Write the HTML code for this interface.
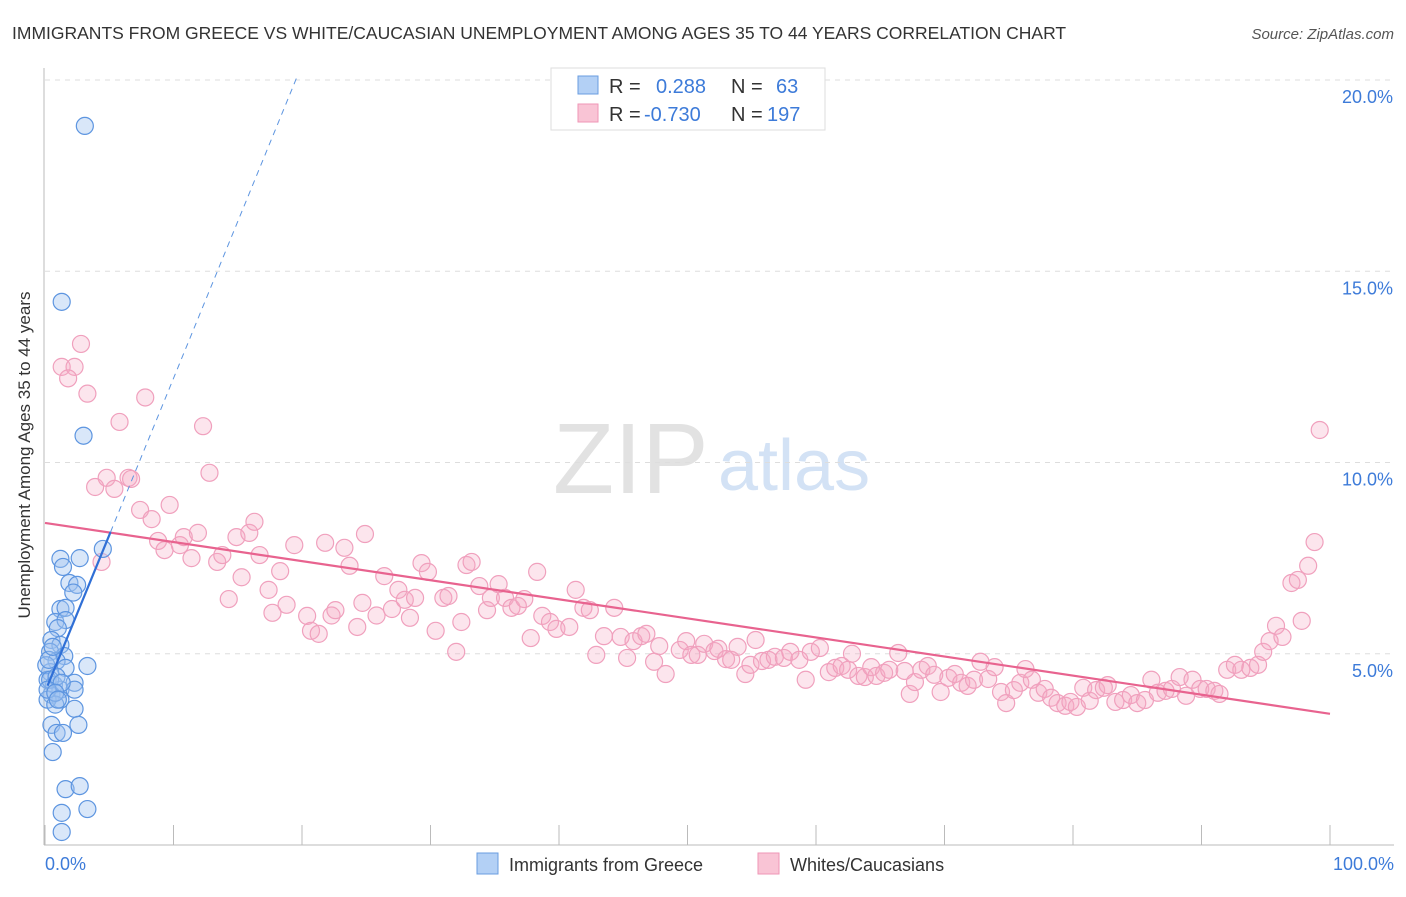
<!DOCTYPE html>
<html><head><meta charset="utf-8"><style>
body{margin:0;background:#fff;font-family:"Liberation Sans",sans-serif}
svg text{font-family:"Liberation Sans",sans-serif}
</style></head><body>
<svg id="chart" width="1406" height="892">
<text x="12" y="39" font-size="17.5" fill="#333">IMMIGRANTS FROM GREECE VS WHITE/CAUCASIAN UNEMPLOYMENT AMONG AGES 35 TO 44 YEARS CORRELATION CHART</text>
<text x="1394" y="39" font-size="15" fill="#555" font-style="italic" text-anchor="end">Source: ZipAtlas.com</text>
<g><text x="553" y="493" font-family="Liberation Serif,serif" font-size="100" fill="#e2e2e2">ZIP</text><text x="718" y="490" font-size="72" fill="#d3e2f5">atlas</text></g>
<g id="grid"></g>
<g id="axes"></g>
<g id="pts"></g>
<g id="lines"></g>
<text x="30" y="455" font-size="17" fill="#333" text-anchor="middle" transform="rotate(-90 30 455)">Unemployment Among Ages 35 to 44 years</text>
<text x="45" y="870" font-size="18" fill="#3d7bd9">0.0%</text>
<text x="1394" y="870" font-size="18" fill="#3d7bd9" text-anchor="end">100.0%</text>
<g>
<rect x="551" y="68" width="274" height="62" fill="#fff" stroke="#ddd"/>
<rect x="578" y="76" width="20" height="18" fill="#b3d0f5" stroke="#6a9de0"/>
<rect x="578" y="104" width="20" height="18" fill="#f9c4d5" stroke="#ef96b6"/>
<text x="609" y="93" font-size="20" fill="#333">R = </text><text x="656" y="93" font-size="20" fill="#3d7bd9">0.288</text>
<text x="731" y="93" font-size="20" fill="#333">N = </text><text x="776" y="93" font-size="20" fill="#3d7bd9">63</text>
<text x="609" y="121" font-size="20" fill="#333">R = </text><text x="644" y="121" font-size="20" fill="#3d7bd9">-0.730</text>
<text x="731" y="121" font-size="20" fill="#333">N = </text><text x="767" y="121" font-size="20" fill="#3d7bd9">197</text>
</g>
<g><rect x="477" y="853" width="21" height="21" fill="#b3d0f5" stroke="#6a9de0"/><text x="509" y="871" font-size="18" fill="#333">Immigrants from Greece</text></g>
<g><rect x="758" y="853" width="21" height="21" fill="#f9c4d5" stroke="#ef96b6"/><text x="790" y="871" font-size="18" fill="#333">Whites/Caucasians</text></g>
</svg>
<script>
const yTicks=[5,10,15,20];
const yTickLabels=["5.0%","10.0%","15.0%","20.0%"];
const xTicks=[0,10,20,30,40,50,60,70,80,90,100];
const blueX=[3.1,1.3,3.0,4.5,1.2,1.4,2.7,1.9,2.5,2.2,1.2,1.6,0.8,1.6,1.0,0.5,1.2,0.4,1.5,0.9,1.6,0.4,3.3,0.2,0.7,1.2,0.5,2.3,2.3,1.2,0.2,0.8,2.3,0.5,2.6,0.9,1.4,0.6,1.6,2.7,1.3,3.3,1.3,0.1,0.4,0.9,1.3,0.2,0.8,0.3,0.6,1.0];
const blueY=[18.8,14.2,10.7,7.74,7.48,7.27,7.5,6.85,6.8,6.6,6.17,6.2,5.83,5.88,5.67,5.36,5.23,5.05,4.94,4.81,4.63,4.52,4.68,4.32,4.19,4.06,3.93,4.24,4.06,3.8,3.8,3.67,3.56,3.14,3.14,2.93,2.93,2.43,1.46,1.54,0.84,0.94,0.34,4.7,4.32,4.4,4.24,4.06,3.98,4.84,5.18,3.8];
const pinkX=[2.8,1.3,2.3,1.8,3.3,7.8,5.8,12.3,3.9,4.8,5.4,6.5,6.7,12.8,4.4,7.4,8.3,9.7,8.8,9.3,10.5,10.8,11.4,11.9,13.4,13.8,14.3,14.9,15.3,15.9,16.3,16.7,17.4,17.7,18.3,18.8,19.4,20.4,20.7,21.3,21.8,22.3,22.6,23.3,23.7,24.3,24.7,24.9,25.8,26.4,27.0,27.5,28.0,28.4,28.8,29.3,29.8,30.4,31.0,31.4,32.0,32.4,32.8,33.2,33.8,34.4,34.7,35.3,35.8,36.3,36.8,37.3,37.8,38.3,38.7,39.3,39.8,40.8,41.3,41.9,42.4,42.9,43.5,44.3,44.8,45.3,45.8,46.4,46.8,47.4,47.8,48.3,49.4,49.9,50.3,50.8,51.3,52.1,52.4,53.0,53.4,53.9,54.5,54.9,55.3,55.8,56.3,56.8,57.5,58.0,58.7,59.2,59.6,60.3,61.0,61.5,62.0,62.5,62.8,63.3,63.8,64.3,64.7,65.3,65.7,66.4,66.9,67.3,67.7,68.2,68.7,69.2,69.7,70.3,70.8,71.3,71.8,72.3,72.8,73.4,73.9,74.4,74.8,75.4,75.9,76.3,76.8,77.3,77.8,78.3,78.8,79.4,79.8,80.3,80.8,81.3,81.8,82.4,82.7,83.3,83.9,84.5,85.0,85.6,86.1,86.6,87.2,87.7,88.3,88.8,89.3,89.9,90.4,91.0,91.4,92.0,92.6,93.1,93.8,94.4,94.8,95.3,95.8,96.3,97.0,97.5,97.8,98.3,98.8,99.2];
const pinkY=[13.1,12.5,12.5,12.2,11.8,11.7,11.06,10.95,9.36,9.6,9.31,9.6,9.57,9.73,7.4,8.76,8.52,8.89,7.95,7.71,7.84,8.05,7.5,8.16,7.4,7.58,6.43,8.05,7.0,8.16,8.45,7.58,6.67,6.07,7.16,6.28,7.84,5.99,5.6,5.52,7.9,6.0,6.14,7.77,7.3,5.7,6.33,8.13,6.0,7.03,6.17,6.67,6.41,5.94,6.46,7.37,7.14,5.6,6.46,6.51,5.05,5.83,7.32,7.4,6.77,6.14,6.46,6.82,6.46,6.2,6.25,6.43,5.41,7.14,5.99,5.83,5.65,5.7,6.67,6.2,6.14,4.97,5.46,6.2,5.44,4.89,5.33,5.46,5.52,4.79,5.2,4.47,5.1,5.33,4.97,4.97,5.26,5.07,5.13,4.86,4.84,5.18,4.47,4.71,5.36,4.81,4.84,4.92,4.89,5.05,4.84,4.32,5.05,5.15,4.52,4.63,4.68,4.58,5.0,4.42,4.39,4.65,4.42,4.5,4.58,5.02,4.55,3.95,4.26,4.58,4.68,4.45,4.0,4.37,4.47,4.24,4.16,4.32,4.79,4.34,4.65,4.0,3.71,4.05,4.24,4.6,4.32,3.98,4.08,3.85,3.71,3.64,3.74,3.61,4.11,3.77,4.05,4.11,4.18,3.74,3.79,3.92,3.71,3.79,4.32,3.98,4.03,4.08,4.39,3.9,4.32,4.08,4.08,4.03,3.95,4.58,4.71,4.58,4.63,4.71,5.05,5.33,5.73,5.44,6.85,6.93,5.86,7.3,7.92,10.85];
const pinkTrend=[8.42,3.43];
const blueTrend={intercept:4.0,slope:0.82};
const NS='http://www.w3.org/2000/svg';
const X0=45,X1=1330,Y0=845,PPU=38.25;
const sx=v=>X0+v/100*(X1-X0);
const sy=v=>Y0-v*PPU;
function mk(tag,attrs,parent){const e=document.createElementNS(NS,tag);for(const k in attrs)e.setAttribute(k,attrs[k]);document.getElementById(parent).appendChild(e);return e;}
yTicks.forEach((t,i)=>{
 const l=mk('line',{x1:45,x2:1394,y1:sy(t),y2:sy(t),stroke:'#ddd','stroke-dasharray':'5,5'},'grid');
 
 
 const tx=mk('text',{x:1393,y:sy(t)+23,'font-size':18,fill:'#3d7bd9','text-anchor':'end'},'grid');
 tx.textContent=yTickLabels[i];
 
 
});
const ya=mk('line',{x1:44,x2:44,y1:68,y2:845,stroke:'#bbb'},'axes');


const xa=mk('line',{x1:44,x2:1394,y1:845,y2:845,stroke:'#bbb'},'axes');


xTicks.forEach(t=>{
 const l=mk('line',{x1:sx(t),x2:sx(t),y1:825,y2:845,stroke:'#bbb'},'axes');
 
 
});
pinkX.forEach((x,i)=>{
 const c=mk('circle',{cx:sx(x),cy:sy(pinkY[i]),r:8.5,fill:'rgba(245,170,195,0.3)',stroke:'#f0a0bd','stroke-width':1.2},'pts');
 
 
});
blueX.forEach((x,i)=>{
 const c=mk('circle',{cx:sx(x),cy:sy(blueY[i]),r:8.5,fill:'rgba(160,195,240,0.4)',stroke:'#5d95e0','stroke-width':1.2},'pts');
 
 
});
const pl=mk('line',{x1:sx(0),y1:sy(pinkTrend[0]),x2:sx(100),y2:sy(pinkTrend[1]),stroke:'#e8638f','stroke-width':2.2},'lines');


const bf=v=>blueTrend.intercept+blueTrend.slope*v;
const bs=mk('line',{x1:sx(0.2),y1:sy(bf(0.2)),x2:sx(5.1),y2:sy(bf(5.1)),stroke:'#2f6fd6','stroke-width':2.2},'lines');


const bd=mk('line',{x1:sx(5.1),y1:sy(bf(5.1)),x2:sx(19.6),y2:sy(bf(19.6)),stroke:'#5d95e0','stroke-width':1,'stroke-dasharray':'6,5'},'lines');


</script>
</body></html>
